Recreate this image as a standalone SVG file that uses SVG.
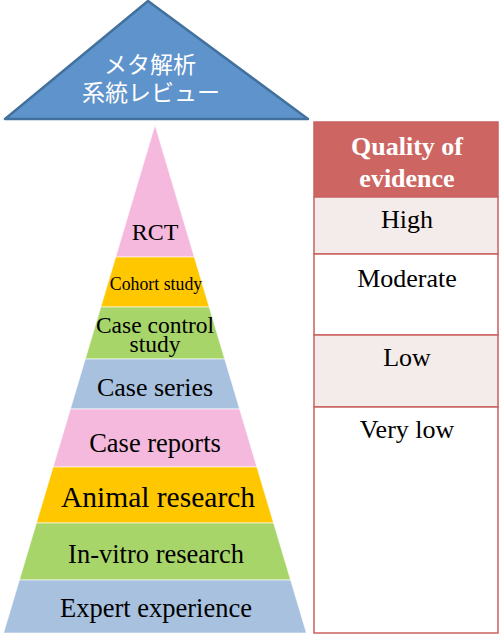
<svg xmlns="http://www.w3.org/2000/svg" width="500" height="634" viewBox="0 0 500 634">
<style>
.lbl{font-family:"Liberation Serif","Times New Roman",serif;fill:#000;text-anchor:middle}
.jp{font-family:"Noto Sans CJK JP",sans-serif;fill:#fff;text-anchor:middle;font-size:23px}
.pink{fill:#f5b9dd}.yellow{fill:#ffc700}.green{fill:#a7d56a}.blue{fill:#a7c1df}
.cell{stroke:#c9625f;stroke-width:1.5}
.th{font-family:"Liberation Serif","Times New Roman",serif;fill:#fff;font-weight:bold;text-anchor:middle;font-size:26px}
</style>
<rect width="500" height="634" fill="#fff"/>
<g id="meta-analysis">
<polygon points="148,1 5,119 308,119" fill="#5f93cb" stroke="#41719c" stroke-width="2.5" stroke-linejoin="round"/>
<text class="jp" x="150" y="73">メタ解析</text>
<text class="jp" x="151" y="101" font-size="23.5">系統レビュー</text>
</g>
<g id="pyramid" stroke="#fff" stroke-width="0.6">
<g id="rct"><polygon class="pink" points="155,125 194.3,257 115.7,257"/><text class="lbl" x="155" y="240" font-size="24" stroke="none">RCT</text></g>
<g id="cohort"><polygon class="yellow" points="115.7,257 194.3,257 209.2,307 100.8,307"/><text class="lbl" x="156" y="290" font-size="17.8" stroke="none">Cohort study</text></g>
<g id="case-control"><polygon class="green" points="100.8,307 209.2,307 224.7,359 85.3,359"/><text class="lbl" x="155" y="333" font-size="23.5" stroke="none">Case control</text><text class="lbl" x="155" y="352" font-size="23.5" stroke="none">study</text></g>
<g id="case-series"><polygon class="blue" points="85.3,359 224.7,359 239.6,409 70.4,409"/><text class="lbl" x="155" y="396" font-size="26" stroke="none">Case series</text></g>
<g id="case-reports"><polygon class="pink" points="70.4,409 239.6,409 256.9,467 53.1,467"/><text class="lbl" x="155" y="452" font-size="26.5" stroke="none">Case reports</text></g>
<g id="animal"><polygon class="yellow" points="53.1,467 256.9,467 273.6,523 36.4,523"/><text class="lbl" x="158" y="507" font-size="29.5" stroke="none">Animal research</text></g>
<g id="in-vitro"><polygon class="green" points="36.4,523 273.6,523 290.6,580 19.4,580"/><text class="lbl" x="156" y="563" font-size="26.5" stroke="none">In-vitro research</text></g>
<g id="expert"><polygon class="blue" points="19.4,580 290.6,580 306.4,633 3.6,633"/><text class="lbl" x="156" y="617" font-size="26.5" stroke="none">Expert experience</text></g>
</g>
<g id="quality-table">
<g id="header"><rect class="cell" x="314" y="122" width="184" height="75" fill="#cd6662"/><text class="th" x="407" y="155">Quality of</text><text class="th" x="407" y="187">evidence</text></g>
<g id="high"><rect class="cell" x="314" y="197" width="184" height="57" fill="#f4eceb"/><text class="lbl" x="407" y="228" font-size="26">High</text></g>
<g id="moderate"><rect class="cell" x="314" y="254" width="184" height="81" fill="#fff"/><text class="lbl" x="407" y="287" font-size="26">Moderate</text></g>
<g id="low"><rect class="cell" x="314" y="335" width="184" height="72" fill="#f4eceb"/><text class="lbl" x="407" y="366" font-size="26">Low</text></g>
<g id="very-low"><rect class="cell" x="314" y="407" width="184" height="226" fill="#fff"/><text class="lbl" x="407" y="438" font-size="26">Very low</text></g>
</g>
</svg>
